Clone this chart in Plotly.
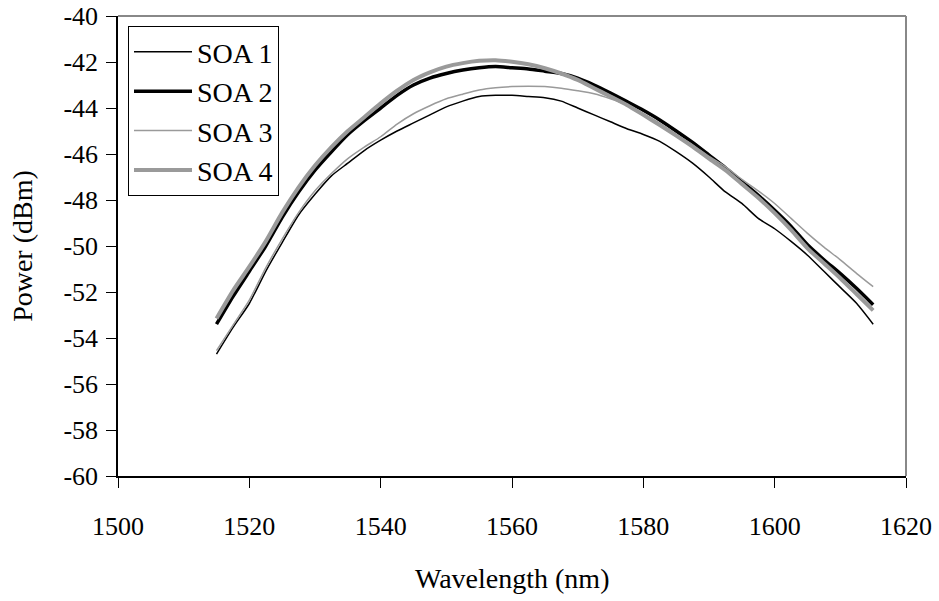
import plotly.graph_objects as go

wavelength = [1515 + 2.5 * i for i in range(41)]

soa1 = [-54.7, -53.55, -52.5, -51.1, -49.85, -48.65, -47.75, -46.95, -46.4, -45.85,
        -45.4, -45.0, -44.65, -44.3, -43.95, -43.7, -43.5, -43.45, -43.45, -43.5,
        -43.55, -43.7, -44.0, -44.3, -44.6, -44.9, -45.15, -45.45, -45.9, -46.4,
        -47.0, -47.65, -48.15, -48.8, -49.25, -49.8, -50.4, -51.1, -51.8, -52.5, -53.4]

soa2 = [-53.4, -52.2, -51.1, -50.0, -48.75, -47.65, -46.7, -45.9, -45.15, -44.55,
        -44.0, -43.45, -43.0, -42.7, -42.5, -42.35, -42.25, -42.2, -42.25, -42.3,
        -42.4, -42.5, -42.7, -43.0, -43.35, -43.72, -44.1, -44.52, -45.0, -45.5,
        -46.05, -46.6, -47.2, -47.8, -48.45, -49.15, -49.95, -50.6, -51.2, -51.85, -52.55]

soa3 = [-54.55, -53.45, -52.35, -50.95, -49.7, -48.55, -47.6, -46.85, -46.2, -45.7,
        -45.25, -44.7, -44.25, -43.9, -43.6, -43.4, -43.22, -43.12, -43.07, -43.05,
        -43.07, -43.14, -43.25, -43.38, -43.6, -43.87, -44.25, -44.67, -45.15, -45.6,
        -46.1, -46.55, -47.1, -47.6, -48.15, -48.8, -49.45, -50.05, -50.6, -51.2, -51.77]

soa4 = [-53.15, -51.95, -50.9, -49.8, -48.55, -47.45, -46.5, -45.7, -45.0, -44.4,
        -43.8, -43.25, -42.78, -42.45, -42.2, -42.05, -41.95, -41.92, -41.99, -42.1,
        -42.27, -42.5, -42.78, -43.14, -43.5, -43.87, -44.3, -44.74, -45.2, -45.68,
        -46.2, -46.7, -47.3, -47.9, -48.57, -49.3, -50.1, -50.75, -51.4, -52.1, -52.8]

x_ticks = [1500, 1520, 1540, 1560, 1580, 1600, 1620]
y_ticks = [-40, -42, -44, -46, -48, -50, -52, -54, -56, -58, -60]
y_tick_labels = ["-40", "-42", "-44", "-46", "-48", "-50", "-52", "-54", "-56", "-58", "-60"]

series = [
    ("SOA 1", soa1, "black", 1.5),
    ("SOA 2", soa2, "black", 3.5),
    ("SOA 3", soa3, "#9a9a9a", 1.5),
    ("SOA 4", soa4, "#9a9a9a", 4),
]

FONT = "Liberation Serif"

fig = go.Figure()
for name, vals, color, w in series:
    fig.add_trace(go.Scatter(x=wavelength, y=vals, mode="lines", name=name,
                             line=dict(color=color, width=w, shape="spline", smoothing=0.6)))

fig.update_layout(
    width=939, height=601,
    margin=dict(l=118, r=33, t=16, b=125, autoexpand=False),
    paper_bgcolor="white", plot_bgcolor="white",
    font=dict(family=FONT, size=26, color="black"),
    showlegend=True,
    legend=dict(x=0.0127, y=0.978, xanchor="left", yanchor="top",
                bordercolor="black", borderwidth=1, bgcolor="white",
                font=dict(family=FONT, size=28, color="black"),
                itemwidth=58, tracegroupgap=0),
    xaxis=dict(range=[1500, 1620], tickvals=x_ticks,
               showgrid=False, zeroline=False, automargin=False,
               showline=True, linecolor="black", linewidth=1.5,
               ticks="outside", ticklen=10, tickcolor="black", tickwidth=1,
               ticklabelstandoff=16),
    yaxis=dict(range=[-60, -40], tickvals=y_ticks, ticktext=y_tick_labels,
               showgrid=False, zeroline=False, automargin=False,
               showline=True, linecolor="black", linewidth=1.5,
               ticks="outside", ticklen=10, tickcolor="black", tickwidth=1,
               ticklabelstandoff=3),
    annotations=[
        dict(text="Wavelength (nm)", xref="paper", yref="paper", x=0.5, y=-0.222,
             xanchor="center", yanchor="middle", showarrow=False,
             font=dict(family=FONT, size=28)),
        dict(text="Power (dBm)", xref="paper", yref="paper", x=-0.122, y=0.5,
             xanchor="center", yanchor="middle", showarrow=False, textangle=-90,
             font=dict(family=FONT, size=28)),
    ],
)

fig.add_shape(type="line", xref="paper", yref="paper", x0=0, x1=1, y0=1, y1=1,
              line=dict(color="#888888", width=2))
fig.add_shape(type="line", xref="paper", yref="paper", x0=1, x1=1, y0=0, y1=1,
              line=dict(color="#888888", width=2))

fig.write_html("out.html", config={"displayModeBar": False},
               post_script="document.body.style.margin='0';")
